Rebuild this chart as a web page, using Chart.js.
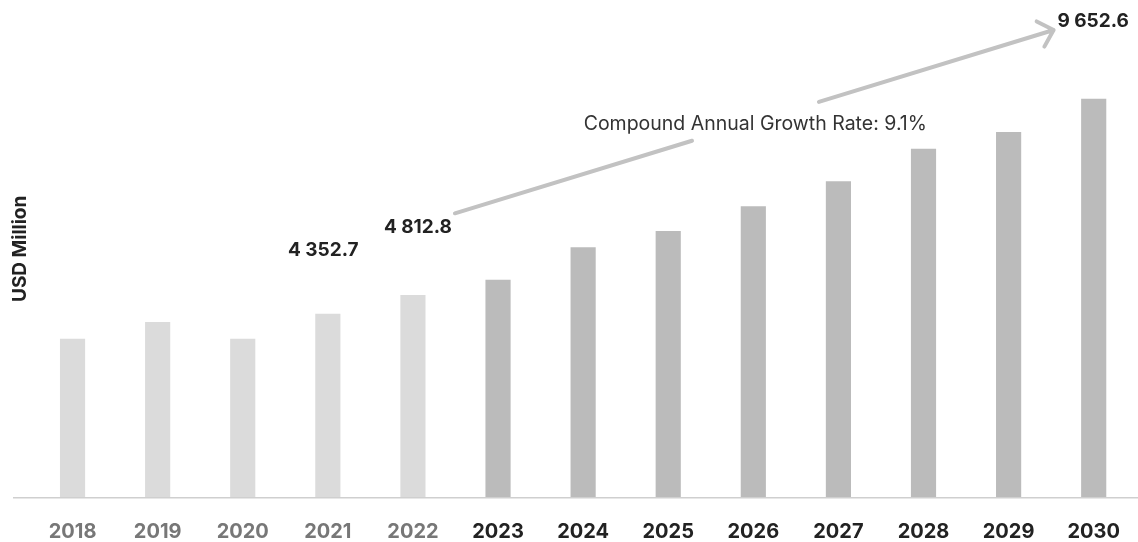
<!DOCTYPE html>
<html>
<head>
<meta charset="utf-8">
<title>USD Million, 2018–2030</title>
<script src="https://cdn.jsdelivr.net/npm/chart.js@4.4.1/dist/chart.umd.min.js"></script>
<style>
  html, body { margin: 0; padding: 0; background: #ffffff; }
  #wrap { position: relative; width: 1138px; height: 542px; }
</style>
</head>
<body>
<div id="wrap"><canvas id="chart"></canvas></div>
<script>
// ---- data ----
const years = ['2018', '2019', '2020', '2021', '2022', '2023', '2024',
               '2025', '2026', '2027', '2028', '2029', '2030'];
const marketSize = [3736, 4147, 3736, 4352.7, 4812.8, 5190, 5987,
                    6391, 6998, 7614, 8420, 8832, 9652.6];
const firstForecastYear = '2023';
const labelledYears = ['2021', '2022', '2030'];
const cagrPercent = 9.1;
const axisTitle = 'USD Million';

// ---- value axis range ----
const Y_MIN = -177;
const Y_MAX = 12094;

// ---- look ----
const FONT = 'Inter, "Noto Sans", "DejaVu Sans", sans-serif';
const HIST_COLOR = '#dbdbdb';
const FCST_COLOR = '#bbbbbb';
const ARROW_COLOR = '#c2c2c2';
const forecastStart = years.indexOf(firstForecastYear);

// where each value callout sits relative to the top of its bar (center x, baseline y)
const calloutOffset = {
  '2021': { dx: -4.6, dy: -57.5 },
  '2022': { dx: 5.0,  dy: -62.1 },
  '2030': { dx: -0.6, dy: -72.1 }
};

function formatValue(v) {
  const [intPart, dec] = v.toFixed(1).split('.');
  return intPart.replace(/\B(?=(\d{3})+(?!\d))/g, ' ') + '.' + dec;
}

const annotations = {
  id: 'annotations',
  afterDatasetsDraw(chart) {
    const { ctx, scales: { x, y } } = chart;
    ctx.save();

    // baseline
    ctx.strokeStyle = '#cfcfcf';
    ctx.lineWidth = 1.5;
    ctx.beginPath();
    ctx.moveTo(13, y.bottom);
    ctx.lineTo(chart.width, y.bottom);
    ctx.stroke();

    // value callouts
    const size = 19;
    ctx.font = `700 ${size}px ${FONT}`;
    ctx.fillStyle = '#222222';
    ctx.textAlign = 'center';
    ctx.textBaseline = 'alphabetic';
    const pos = {};
    labelledYears.forEach(yr => {
      const i = years.indexOf(yr);
      const off = calloutOffset[yr];
      const cx = x.getPixelForValue(i) + off.dx;
      const base = y.getPixelForValue(marketSize[i]) + off.dy;
      ctx.fillText(formatValue(marketSize[i]), cx, base);
      pos[yr] = { cx, cy: base - 0.3635 * size };
    });

    // growth arrow from the 2022 callout to the 2030 callout
    const a = pos['2022'], b = pos['2030'];
    const x0 = a.cx + 37, y0 = a.cy - 13;
    const x1 = b.cx - 39.5, y1 = b.cy + 10;
    const gapFrom = 0.396, gapTo = 0.608;
    const lerp = t => [x0 + (x1 - x0) * t, y0 + (y1 - y0) * t];
    ctx.strokeStyle = ARROW_COLOR;
    ctx.lineWidth = 4;
    ctx.lineCap = 'round';
    ctx.lineJoin = 'round';
    ctx.beginPath();
    ctx.moveTo(x0, y0);
    ctx.lineTo(...lerp(gapFrom));
    ctx.moveTo(...lerp(gapTo));
    ctx.lineTo(x1, y1);
    // open arrow head
    const ang = Math.atan2(y0 - y1, x0 - x1);
    const headLen = 19, spread = Math.PI / 4.1;
    ctx.moveTo(x1 + headLen * Math.cos(ang - spread), y1 + headLen * Math.sin(ang - spread));
    ctx.lineTo(x1, y1);
    ctx.lineTo(x1 + headLen * Math.cos(ang + spread), y1 + headLen * Math.sin(ang + spread));
    ctx.stroke();

    // CAGR caption in the gap of the arrow
    const mid = lerp(0.5);
    ctx.font = `400 19.5px ${FONT}`;
    ctx.fillStyle = '#333333';
    ctx.textAlign = 'center';
    ctx.fillText(`Compound Annual Growth Rate: ${cagrPercent}%`, mid[0] + 1, mid[1] + 8.5);

    ctx.restore();
  }
};

new Chart(document.getElementById('chart'), {
  type: 'bar',
  data: {
    labels: years,
    datasets: [{
      data: marketSize,
      base: Y_MIN,
      backgroundColor: ctx => ctx.dataIndex < forecastStart ? HIST_COLOR : FCST_COLOR,
      borderWidth: 0,
      barThickness: 24.5
    }]
  },
  options: {
    responsive: true,
    maintainAspectRatio: false,
    animation: false,
    events: [],
    layout: { padding: { top: 0, left: 0, right: 1.4, bottom: 0 } },
    plugins: {
      legend: { display: false },
      tooltip: { enabled: false }
    },
    scales: {
      x: {
        grid: { display: false, drawTicks: false },
        border: { display: false },
        ticks: {
          autoSkip: false,
          maxRotation: 0,
          padding: 18,
          font: { family: FONT, size: 20, weight: '700', lineHeight: 1.6 },
          color: c => c.index < forecastStart ? '#777777' : '#222222'
        },
        afterFit: s => { s.height = 44.3; }
      },
      y: {
        min: Y_MIN,
        max: Y_MAX,
        grid: { display: false, drawTicks: false },
        border: { display: false },
        ticks: { display: false },
        title: {
          display: true,
          text: axisTitle,
          color: '#222222',
          font: { family: FONT, size: 19, weight: '700' },
          padding: { top: 9, bottom: 0 }
        },
        afterFit: s => { s.width = 30; }
      }
    }
  },
  plugins: [annotations]
});
</script>
</body>
</html>
